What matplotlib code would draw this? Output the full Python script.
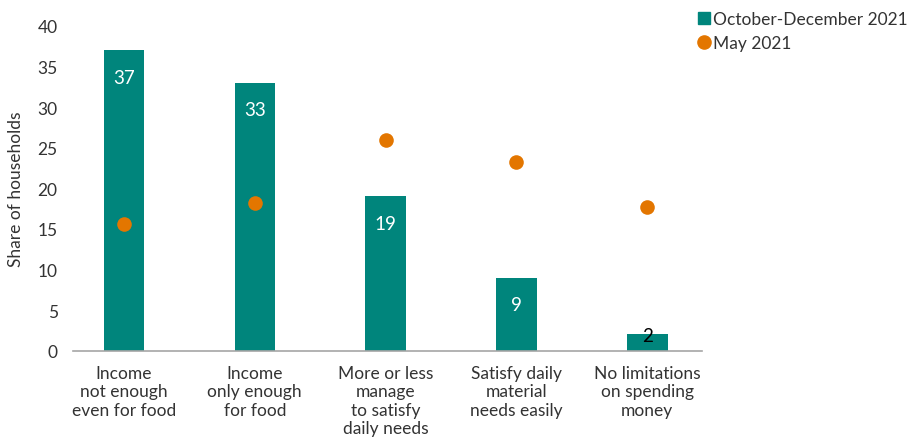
import matplotlib.pyplot as plt
from matplotlib.lines import Line2D

# =========================
# DATA
# =========================
categories = [
    "Income\nnot enough\neven for food",
    "Income\nonly enough\nfor food",
    "More or less\nmanage\nto satisfy\ndaily needs",
    "Satisfy daily\nmaterial\nneeds easily",
    "No limitations\non spending\nmoney",
]
oct_dec_2021 = [37, 33, 19, 9, 2]
may_2021 = [15.6, 18.2, 25.9, 23.2, 17.7]
yticks = [0, 5, 10, 15, 20, 25, 30, 35, 40]

TEAL = "#00857C"
ORANGE = "#E37600"
TEXT = "#333333"

plt.rcParams["font.family"] = ["Lato", "DejaVu Sans"]

fig = plt.figure(figsize=(9.12, 4.39), dpi=100)
ax = fig.add_axes([0.080, 0.199, 0.690, 0.7395])

x = list(range(len(categories)))
ax.bar(x, oct_dec_2021, width=0.31, color=TEAL, zorder=2)
ax.plot(x, may_2021, "o", color=ORANGE, markersize=10.5, markeredgewidth=0, zorder=3)

# value labels: inside the bar, or on top when the bar is too short
for xi, v in zip(x, oct_dec_2021):
    if v >= 5:
        ax.annotate(str(v), (xi, v), xytext=(0, -19.5), textcoords="offset points",
                    ha="center", va="center", color="white", fontsize=13.5)
    else:
        ax.annotate(str(v), (xi, v), xytext=(0, -1), textcoords="offset points",
                    ha="center", va="center", color="black", fontsize=13.5)

ax.set_xlim(-0.39, 4.42)
ax.set_ylim(0, 40)
ax.set_yticks(yticks)
ax.set_xticks(x)
ax.set_xticklabels(categories, fontsize=12.5, color=TEXT, linespacing=1.2, va="top")
ax.tick_params(axis="y", length=0, pad=11, labelsize=12.5, labelcolor=TEXT)
ax.tick_params(axis="x", length=0, pad=10)
ax.set_ylabel("Share of households", fontsize=12.5, color=TEXT, labelpad=10)

for side in ["top", "right", "left"]:
    ax.spines[side].set_visible(False)
ax.spines["bottom"].set_color("#A6A6A6")
ax.spines["bottom"].set_linewidth(1.2)

handles = [
    Line2D([], [], marker="s", linestyle="none", color=TEAL, markersize=8.5),
    Line2D([], [], marker="o", linestyle="none", color=ORANGE, markersize=9.5),
]
fig.legend(handles, ["October-December 2021", "May 2021"], loc="upper left",
           bbox_to_anchor=(0.749, 1.008), frameon=False, fontsize=12.5,
           handlelength=0.6, handletextpad=0.2, labelspacing=0.45,
           labelcolor=TEXT)

fig.savefig("out.png", dpi=100)
